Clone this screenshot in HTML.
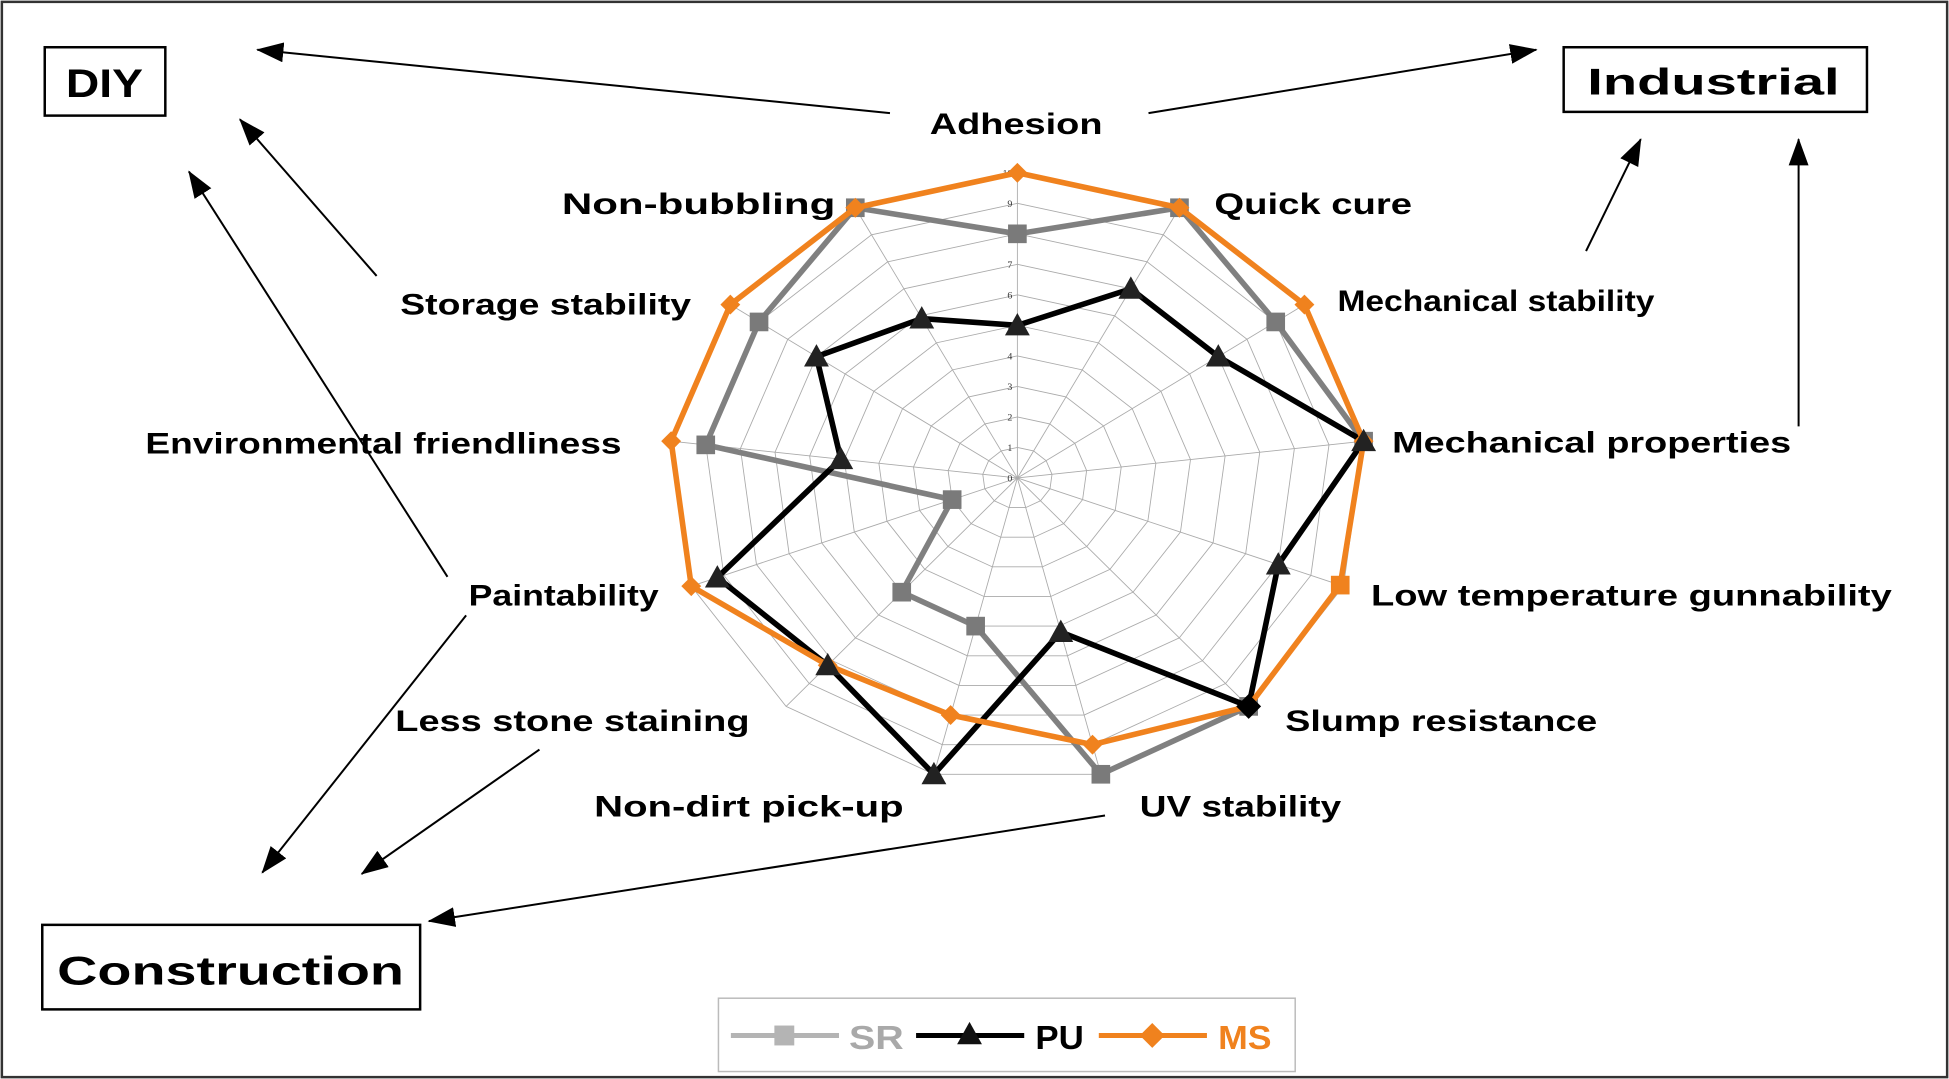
<!DOCTYPE html>
<html><head><meta charset="utf-8"><style>
html,body{margin:0;padding:0;background:#fff;}
svg{display:block;}
text{font-family:"Liberation Sans",Arial,sans-serif;font-weight:bold;}
</style></head><body>
<svg id="s" width="1949" height="1079" viewBox="0 0 1568 868" preserveAspectRatio="none" xmlns="http://www.w3.org/2000/svg">
<defs>
<marker id="ah2" markerWidth="22" markerHeight="16" refX="21" refY="8" orient="auto" markerUnits="userSpaceOnUse"><path d="M0,0 L22,8 L0,16 z" fill="#000"/></marker></defs>
<rect x="1.5" y="1.5" width="1565" height="865" fill="#fff" stroke="#333" stroke-width="2"/>
<g id="grid"></g>
<g id="series"></g>
<g fill="#000" font-size="24">
<text x="748" y="108" textLength="139" lengthAdjust="spacingAndGlyphs">Adhesion</text>
<text x="452" y="172" textLength="220" lengthAdjust="spacingAndGlyphs">Non-bubbling</text>
<text x="977" y="172" textLength="159" lengthAdjust="spacingAndGlyphs">Quick cure</text>
<text x="1076" y="250" textLength="255" lengthAdjust="spacingAndGlyphs">Mechanical stability</text>
<text x="1120" y="364" textLength="321" lengthAdjust="spacingAndGlyphs">Mechanical properties</text>
<text x="1103" y="487" textLength="419" lengthAdjust="spacingAndGlyphs">Low  temperature gunnability</text>
<text x="1034" y="588" textLength="251" lengthAdjust="spacingAndGlyphs">Slump resistance</text>
<text x="917" y="657" textLength="162" lengthAdjust="spacingAndGlyphs">UV stability</text>
<text x="478" y="657" textLength="249" lengthAdjust="spacingAndGlyphs">Non-dirt pick-up</text>
<text x="318" y="588" textLength="285" lengthAdjust="spacingAndGlyphs">Less stone staining</text>
<text x="377" y="487" textLength="153" lengthAdjust="spacingAndGlyphs">Paintability</text>
<text x="117" y="365" textLength="383" lengthAdjust="spacingAndGlyphs">Environmental friendliness</text>
<text x="322" y="253" textLength="234" lengthAdjust="spacingAndGlyphs">Storage stability</text>
</g>
<rect x="36" y="38" width="97" height="55" fill="none" stroke="#000" stroke-width="2"/>
<text x="53" y="78" font-size="32" textLength="62" lengthAdjust="spacingAndGlyphs">DIY</text>
<rect x="1258" y="38" width="244" height="52" fill="none" stroke="#000" stroke-width="2"/>
<text x="1277" y="76" font-size="30" textLength="203" lengthAdjust="spacingAndGlyphs">Industrial</text>
<rect x="34" y="744" width="304" height="68" fill="none" stroke="#000" stroke-width="2"/>
<text x="46" y="792" font-size="32" textLength="279" lengthAdjust="spacingAndGlyphs">Construction</text>
<g stroke="#000" stroke-width="1.6" marker-end="url(#ah2)" fill="none">
<line x1="716" y1="91" x2="207" y2="40"/>
<line x1="924" y1="91" x2="1236" y2="40"/>
<line x1="303" y1="222" x2="193" y2="96"/>
<line x1="360" y1="464" x2="152" y2="138"/>
<line x1="375" y1="495" x2="211" y2="702"/>
<line x1="434" y1="603" x2="291" y2="703"/>
<line x1="889" y1="656" x2="345" y2="741"/>
<line x1="1276" y1="202" x2="1320" y2="112"/>
<line x1="1447" y1="343" x2="1447" y2="112"/>
</g>
<rect x="578" y="803" width="464" height="59" fill="#fff" stroke="#bbb" stroke-width="1.2"/>
<line x1="588" y1="833" x2="675" y2="833" stroke="#b4b4b4" stroke-width="4"/>
<rect x="623" y="825" width="16" height="16" fill="#b4b4b4"/>
<text x="683" y="844" font-size="27" fill="#a9a9a9" textLength="44" lengthAdjust="spacingAndGlyphs">SR</text>
<line x1="737" y1="833" x2="824" y2="833" stroke="#000" stroke-width="4"/>
<path d="M780,822 L790,840 L770,840 z" fill="#111"/>
<text x="833" y="844" font-size="27" fill="#000" textLength="39" lengthAdjust="spacingAndGlyphs">PU</text>
<line x1="884" y1="833" x2="971" y2="833" stroke="#f0821e" stroke-width="4"/>
<path d="M927,823 L937,833 L927,843 L917,833 z" fill="#f0821e"/>
<text x="980" y="844" font-size="27" fill="#f0821e" textLength="43" lengthAdjust="spacingAndGlyphs">MS</text>
</svg>
<script>
var NS="http://www.w3.org/2000/svg";
var cx=818.5,cy=384.5,rx=28.06,ry=24.55,N=13;
function pt(k,v){var a=k*2*Math.PI/N;return [cx+v*rx*Math.sin(a),cy-v*ry*Math.cos(a)];}
function el(t,a,p){var e=document.createElementNS(NS,t);for(var k in a)e.setAttribute(k,a[k]);p.appendChild(e);return e;}
var g=document.getElementById('grid');
for(var v=1;v<=10;v++){var ps=[];for(var k=0;k<N;k++)ps.push(pt(k,v).join(','));
el('polygon',{points:ps.join(' '),fill:'none',stroke:'#aaa','stroke-width':0.7},g);}
for(var k=0;k<N;k++){var p=pt(k,10);el('line',{x1:cx,y1:cy,x2:p[0],y2:p[1],stroke:'#aaa','stroke-width':0.7},g);}
for(var v=0;v<=10;v++){var t=el('text',{x:cx-4,y:cy-v*ry+3,'font-size':8,'text-anchor':'end',fill:'#333',style:'font-family:"Liberation Serif",serif;font-weight:normal'},g);t.textContent=v;}
var S=document.getElementById('series');
var SR=[8,10,9,10,null,10,10,5,5,2,9,9,10];
var PU=[5,7,7,10,8,10,5.2,10,8.2,9.2,5.1,7,5.9];
var MS=[10,10,10,10,9.9,10,9,8,8.2,10,10,10,10];
function line(vals,col){var segs=[],cur=[];for(var i=0;i<=N;i++){var v=vals[i%N];if(v==null){if(cur.length)segs.push(cur);cur=[];}else cur.push(pt(i%N,v).join(','));}
if(cur.length)segs.push(cur);segs.forEach(function(s){el('polyline',{points:s.join(' '),fill:'none',stroke:col,'stroke-width':4.5,'stroke-linejoin':'miter'},S);});}
function sq(p,c,s){el('rect',{x:p[0]-s/2,y:p[1]-s/2,width:s,height:s,fill:c},S);}
function tri(p,c){el('path',{d:'M'+p[0]+','+(p[1]-10)+' L'+(p[0]+10)+','+(p[1]+8)+' L'+(p[0]-10)+','+(p[1]+8)+' z',fill:c},S);}
function dia(p,c,s){el('path',{d:'M'+p[0]+','+(p[1]-s)+' L'+(p[0]+s)+','+p[1]+' L'+p[0]+','+(p[1]+s)+' L'+(p[0]-s)+','+p[1]+' z',fill:c},S);}
line(SR,'#808080');
for(var i=0;i<N;i++)if(SR[i]!=null)sq(pt(i,SR[i]),'#7a7a7a',15);
line(PU,'#000');
line(MS,'#f0821e');
for(var i=0;i<N;i++){if(i==4)sq(pt(i,MS[i]),'#f0821e',15);else dia(pt(i,MS[i]),'#f0821e',8);}
for(var i=0;i<N;i++){if(i==5)dia(pt(i,PU[i]),'#000',10);else tri(pt(i,PU[i]),'#222');}
</script>
</body></html>
